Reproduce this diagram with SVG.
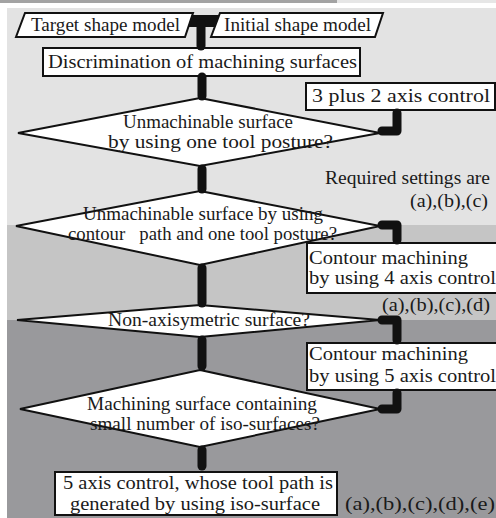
<svg xmlns="http://www.w3.org/2000/svg" width="496" height="518" viewBox="0 0 496 518">
<style>
.n{fill:#fff;stroke:#111;stroke-width:2;stroke-linejoin:miter}
text{font-family:'Liberation Serif','DejaVu Serif',serif;font-size:18px;fill:#1a1a1a}
.c{fill:none;stroke:#111;stroke-width:9;stroke-linecap:round;stroke-linejoin:round}
</style>
<rect x="0" y="0" width="496" height="518" fill="#fff"/>
<rect x="0" y="0" width="337" height="3" fill="#a3a3a3"/>
<rect x="337" y="0" width="159" height="3" fill="#e6e6e6"/>
<rect x="7" y="8" width="489" height="217" fill="#e3e3e3"/>
<rect x="7" y="225" width="489" height="95" fill="#c5c5c5"/>
<rect x="7" y="320" width="489" height="198" fill="#99999c"/>

<g font-family="Liberation Serif, serif">
<g id="n_target"><polygon class="n" points="25,13 193,13 185,37 16,37"/><text x="31" y="31" textLength="149" lengthAdjust="spacingAndGlyphs">Target shape model</text></g>
<g id="n_initial"><polygon class="n" points="220,13 383,13 375,37 211,37"/><text x="224" y="31" textLength="147" lengthAdjust="spacingAndGlyphs">Initial shape model</text></g>
<g id="n_discrim"><rect class="n" x="43" y="48" width="317" height="28"/><text x="48" y="68" textLength="309" lengthAdjust="spacingAndGlyphs">Discrimination of machining surfaces</text></g>
<g id="n_3plus2"><rect class="n" x="306" y="83" width="189" height="27"/><text x="312" y="102" textLength="178" lengthAdjust="spacingAndGlyphs">3 plus 2 axis control</text></g>
<g id="n_d1"><polygon class="n" points="200,98 380,133 200,166 18,133"/><text x="123" y="128" textLength="170" lengthAdjust="spacingAndGlyphs">Unmachinable surface</text><text x="108" y="148" textLength="225" lengthAdjust="spacingAndGlyphs">by using one tool posture?</text></g>
<g id="n_req"><text x="325" y="184" textLength="165" lengthAdjust="spacingAndGlyphs">Required settings are</text><text x="410" y="207" textLength="78" lengthAdjust="spacingAndGlyphs">(a),(b),(c)</text></g>
<g id="n_d2"><polygon class="n" points="200,191 380,226 200,265 16,226"/><text x="83" y="220" textLength="240" lengthAdjust="spacingAndGlyphs">Unmachinable surface by using</text><text x="68" y="240" textLength="269" lengthAdjust="spacingAndGlyphs">contour&#160;&#160; path and one tool posture?</text></g>
<g id="n_4axis"><rect class="n" x="307" y="243" width="200" height="50"/><text x="309" y="264" textLength="159" lengthAdjust="spacingAndGlyphs">Contour machining</text><text x="309" y="284" textLength="187" lengthAdjust="spacingAndGlyphs">by using 4 axis control</text></g>
<g id="n_abcd"><text x="382" y="311" textLength="108" lengthAdjust="spacingAndGlyphs">(a),(b),(c),(d)</text></g>
<g id="n_d3"><polygon class="n" points="200,305 380,320 200,337 17,320"/><text x="108" y="326" textLength="202" lengthAdjust="spacingAndGlyphs">Non-axisymetric surface?</text></g>
<g id="n_5axis"><rect class="n" x="307" y="343" width="200" height="47"/><text x="309" y="360" textLength="159" lengthAdjust="spacingAndGlyphs">Contour machining</text><text x="309" y="382" textLength="187" lengthAdjust="spacingAndGlyphs">by using 5 axis control</text></g>
<g id="n_d4"><polygon class="n" points="200,370 380,409 200,447 20,409"/><text x="87" y="410" textLength="230" lengthAdjust="spacingAndGlyphs">Machining surface containing</text><text x="90" y="430" textLength="230" lengthAdjust="spacingAndGlyphs">small number of iso-surfaces?</text></g>
<g id="n_final"><rect class="n" x="55" y="472" width="282" height="43"/><text x="63" y="489" textLength="270" lengthAdjust="spacingAndGlyphs">5 axis control, whose tool path is</text><text x="70" y="510" textLength="250" lengthAdjust="spacingAndGlyphs">generated by using iso-surface</text></g>
<g id="n_abcde"><text x="345" y="510" textLength="150" lengthAdjust="spacingAndGlyphs">(a),(b),(c),(d),(e)</text></g>
</g>

<g id="connectors">
<polygon points="192,15 219.5,15 215,27 188.5,27" fill="#111"/>
<path class="c" d="M201 24 V46"/>
<path class="c" d="M202 77 V96"/>
<path class="c" d="M202 169 V189"/>
<path class="c" d="M202 268 V303"/>
<path class="c" d="M202 340 V366"/>
<path class="c" d="M202 450 V466"/>
<path class="c" d="M397 113 V131 H382"/>
<path class="c" d="M382 225 H397 V240"/>
<path class="c" d="M382 320 H397 V340"/>
<path class="c" d="M397 393 V409 H382"/>
</g>
</svg>
